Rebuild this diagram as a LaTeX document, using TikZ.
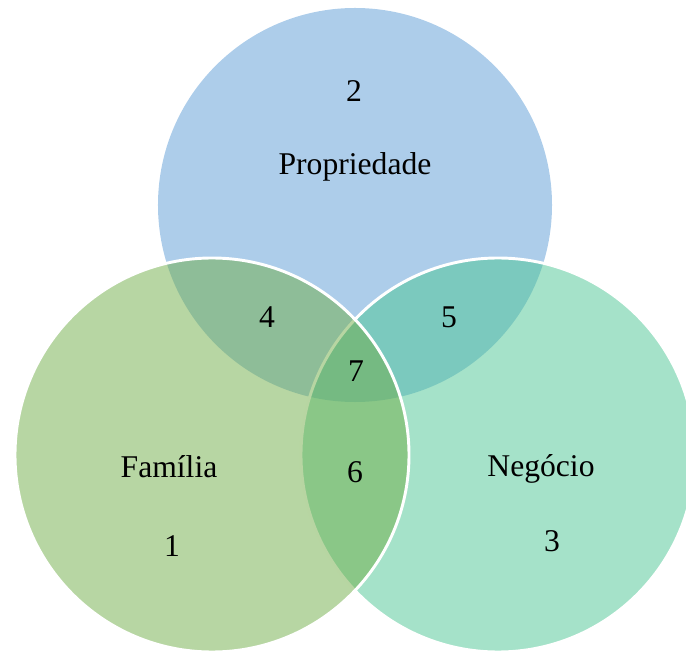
\documentclass[tikz,border=0pt]{standalone}
\usepackage{fontspec}
\setmainfont{Liberation Serif}
\usetikzlibrary{positioning}

\definecolor{propBlue}{HTML}{5B9BD5}
\definecolor{famGreen}{HTML}{70AD47}
\definecolor{negTeal}{HTML}{4BC593}

\begin{document}
\begin{tikzpicture}[
		x=0.03cm, y=-0.03cm,
		font=\fontsize{27}{32}\selectfont,
		% Styles
		setCircle/.style={circle, fill=#1, fill opacity=0.5, minimum size=11.82cm, inner sep=0pt},
		setBorder/.style={draw=white, line width=2.5pt},
		regionLabel/.style={anchor=base, inner sep=0pt, text=black}
		]
		
		% page frame (pixels of the reference)
		\clip (0,0) rectangle (686,652);
		
		% =========================================================
		% 1. THE THREE SETS
		% =========================================================
		\node[setCircle=propBlue] (Prop) at (355,205) {};
		\node[setCircle=negTeal, setBorder] (Neg) at (498,455) {};
		\node[setCircle=famGreen, setBorder] (Fam) at (212,455) {};
		
		% =========================================================
		% 2. NAMES AND REGION NUMBERS
		% =========================================================
		\node[regionLabel] (PropNum) at (354,102) {2};
		\node[regionLabel] (PropName) at (355,175) {Propriedade};
		
		\node[regionLabel] (FamName) at (169,478) {Família};
		\node[regionLabel] (FamNum) at (172,557) {1};
		
		\node[regionLabel] (NegName) at (541,477) {Negócio};
		\node[regionLabel] (NegNum) at (552,552) {3};
		
		% overlaps
		\node[regionLabel] (PropFam) at (267,328) {4};
		\node[regionLabel] (PropNeg) at (449,328) {5};
		\node[regionLabel] (FamNeg) at (355,483) {6};
		\node[regionLabel] (AllThree) at (356,382) {7};
		
	\end{tikzpicture}
\end{document}
